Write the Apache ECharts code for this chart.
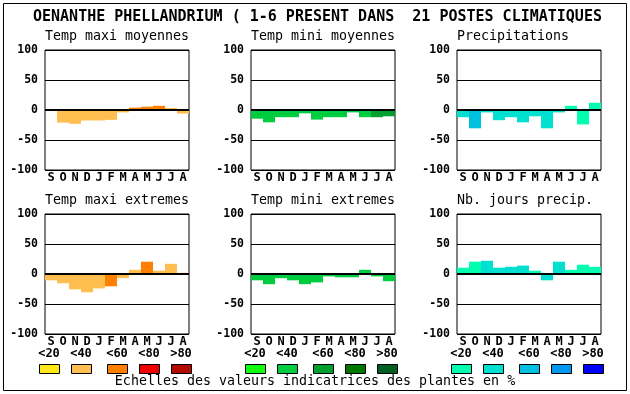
<!DOCTYPE html>
<html><head><meta charset="utf-8">
<script src="https://cdn.jsdelivr.net/npm/echarts@6/dist/echarts.min.js"></script>
<style>html,body{margin:0;padding:0;background:#fff}#c{width:630px;height:394px}</style>
</head><body><div id="c"></div>
<script>
// ---- data ----
const months = ['S','O','N','D','J','F','M','A','M','J','J','A'];
const mainTitle = 'OENANTHE PHELLANDRIUM ( 1-6 PRESENT DANS  21 POSTES CLIMATIQUES';
const panelTitles = ['Temp maxi moyennes','Temp mini moyennes','Precipitations','Temp maxi extremes','Temp mini extremes','Nb. jours precip.'];
const scaleLabels = ['<20','<40','<60','<80','>80'];
const footnote = 'Echelles des valeurs indicatrices des plantes en %';
const orangeScale = ['#ffe818','#ffbf50','#ff8000','#f00000','#b00c00'];
const greenScale  = ['#10ff10','#00cc40','#00a030','#007800','#006020'];
const blueScale   = ['#00ffb0','#00e0d0','#00c0e0','#0098f0','#0000ff'];

const tmaxMoy      = [null,-21,-23,-17.5,-17.5,-16.5,-4,4,5.5,7,3.5,-6];
const tmaxMoyClass = [1,1,1,1,1,1,1,2,2,2,1,1];
const tminMoy      = [-14.5,-20.5,-12,-12,-5.5,-16,-12,-12,-4,-12,-12,-10.5];
const tminMoyClass = [1,1,1,1,1,1,1,1,1,1,2,2];
const precip       = [-12,-30.5,-4,-17,-12,-20.5,-10.5,-30.5,-4,7,-24,12];
const precipClass  = [1,2,1,1,1,1,1,1,1,0,0,0];
const tmaxExt      = [-10.5,-15.5,-25.5,-30.5,-24,-20.5,-7,7,20.5,5.5,17,2];
const tmaxExtClass = [1,1,1,1,1,2,1,1,2,1,1,1];
const tminExt      = [-10.5,-17,-7,-10.5,-17,-14,-4,-5.5,-5.5,7,-4,-12];
const tminExtClass = [1,1,1,1,1,1,1,1,1,1,1,1];
const nbJours      = [10.5,20.5,22,10.5,12,14,5.5,-10.5,20.5,7,15.5,12];
const nbJoursClass = [0,0,1,1,1,1,0,1,1,0,0,0];

// ---- layout ----
const panels = [
  {vals:tmaxMoy, cls:tmaxMoyClass, scale:orangeScale},
  {vals:tminMoy, cls:tminMoyClass, scale:greenScale},
  {vals:precip,  cls:precipClass,  scale:blueScale},
  {vals:tmaxExt, cls:tmaxExtClass, scale:orangeScale},
  {vals:tminExt, cls:tminExtClass, scale:greenScale},
  {vals:nbJours, cls:nbJoursClass, scale:blueScale}
];
const lefts = [45,251,457];
const tops = [50,214];
const FONT = 'DejaVu Sans Mono';

const grid=[], xAxis=[], yAxis=[], series=[], graphic=[];
panels.forEach((p,i)=>{
  const col=i%3, row=Math.floor(i/3);
  grid.push({left:lefts[col], top:tops[row], width:144, height:120, show:true, borderColor:'#000', borderWidth:1, backgroundColor:'#fff', containLabel:false});
  xAxis.push({type:'category', gridIndex:i, data:months, position:'bottom',
    axisLine:{show:false, onZero:false}, axisTick:{show:false},
    axisLabel:{interval:0, margin:2, color:'#000', fontFamily:FONT, fontWeight:'bold', fontSize:12}});
  yAxis.push({type:'value', gridIndex:i, min:-100, max:100, interval:50,
    axisLine:{show:false}, axisTick:{show:false},
    splitLine:{show:true, lineStyle:{color:'#000', width:1}},
    axisLabel:{margin:7, color:'#000', fontFamily:FONT, fontWeight:'bold', fontSize:11.5}});
  series.push({type:'bar', xAxisIndex:i, yAxisIndex:i, barWidth:'100%', barCategoryGap:'0%',
    data:p.vals.map((v,k)=>({value:v, itemStyle:{color:p.scale[p.cls[k]]}})),
    markLine:{silent:true, symbol:'none', label:{show:false}, animation:false,
      lineStyle:{color:'#000', width:2, type:'solid'}, data:[{yAxis:0}]}});
  graphic.push({type:'text', left:lefts[col], top:(row?202:38)-8,
    style:{text:panelTitles[i], fill:'#000', font:'13.3px "'+FONT+'"'}});
});

// outer frame
graphic.push({type:'rect', shape:{x:3.5,y:3.5,width:623,height:387}, style:{fill:null, stroke:'#000', lineWidth:1}, z:-10});
// main title
graphic.push({type:'text', left:33, top:10, style:{text:mainTitle, fill:'#000', font:'bold 15px "'+FONT+'"'}});
// scale legends
const groupStarts=[39,245,451];
const boxOffsets=[0,32,68,100,132];
[orangeScale,greenScale,blueScale].forEach((sc,g)=>{
  sc.forEach((c,k)=>{
    const x=groupStarts[g]+boxOffsets[k];
    graphic.push({type:'rect', shape:{x:x+0.5,y:364.5,width:20,height:9}, style:{fill:c, stroke:'#000', lineWidth:1}});
    graphic.push({type:'text', x:x+10, y:354, style:{text:scaleLabels[k], fill:'#000', font:'bold 12px "'+FONT+'"', textAlign:'center', textVerticalAlign:'middle'}});
  });
});
graphic.push({type:'text', x:315, y:382, style:{text:footnote, fill:'#000', font:'13.3px "'+FONT+'"', textAlign:'center', textVerticalAlign:'middle'}});

const chart = echarts.init(document.getElementById('c'), null, {renderer:'canvas'});
chart.setOption({animation:false, backgroundColor:'#fff', grid, xAxis, yAxis, series, graphic});
</script></body></html>
